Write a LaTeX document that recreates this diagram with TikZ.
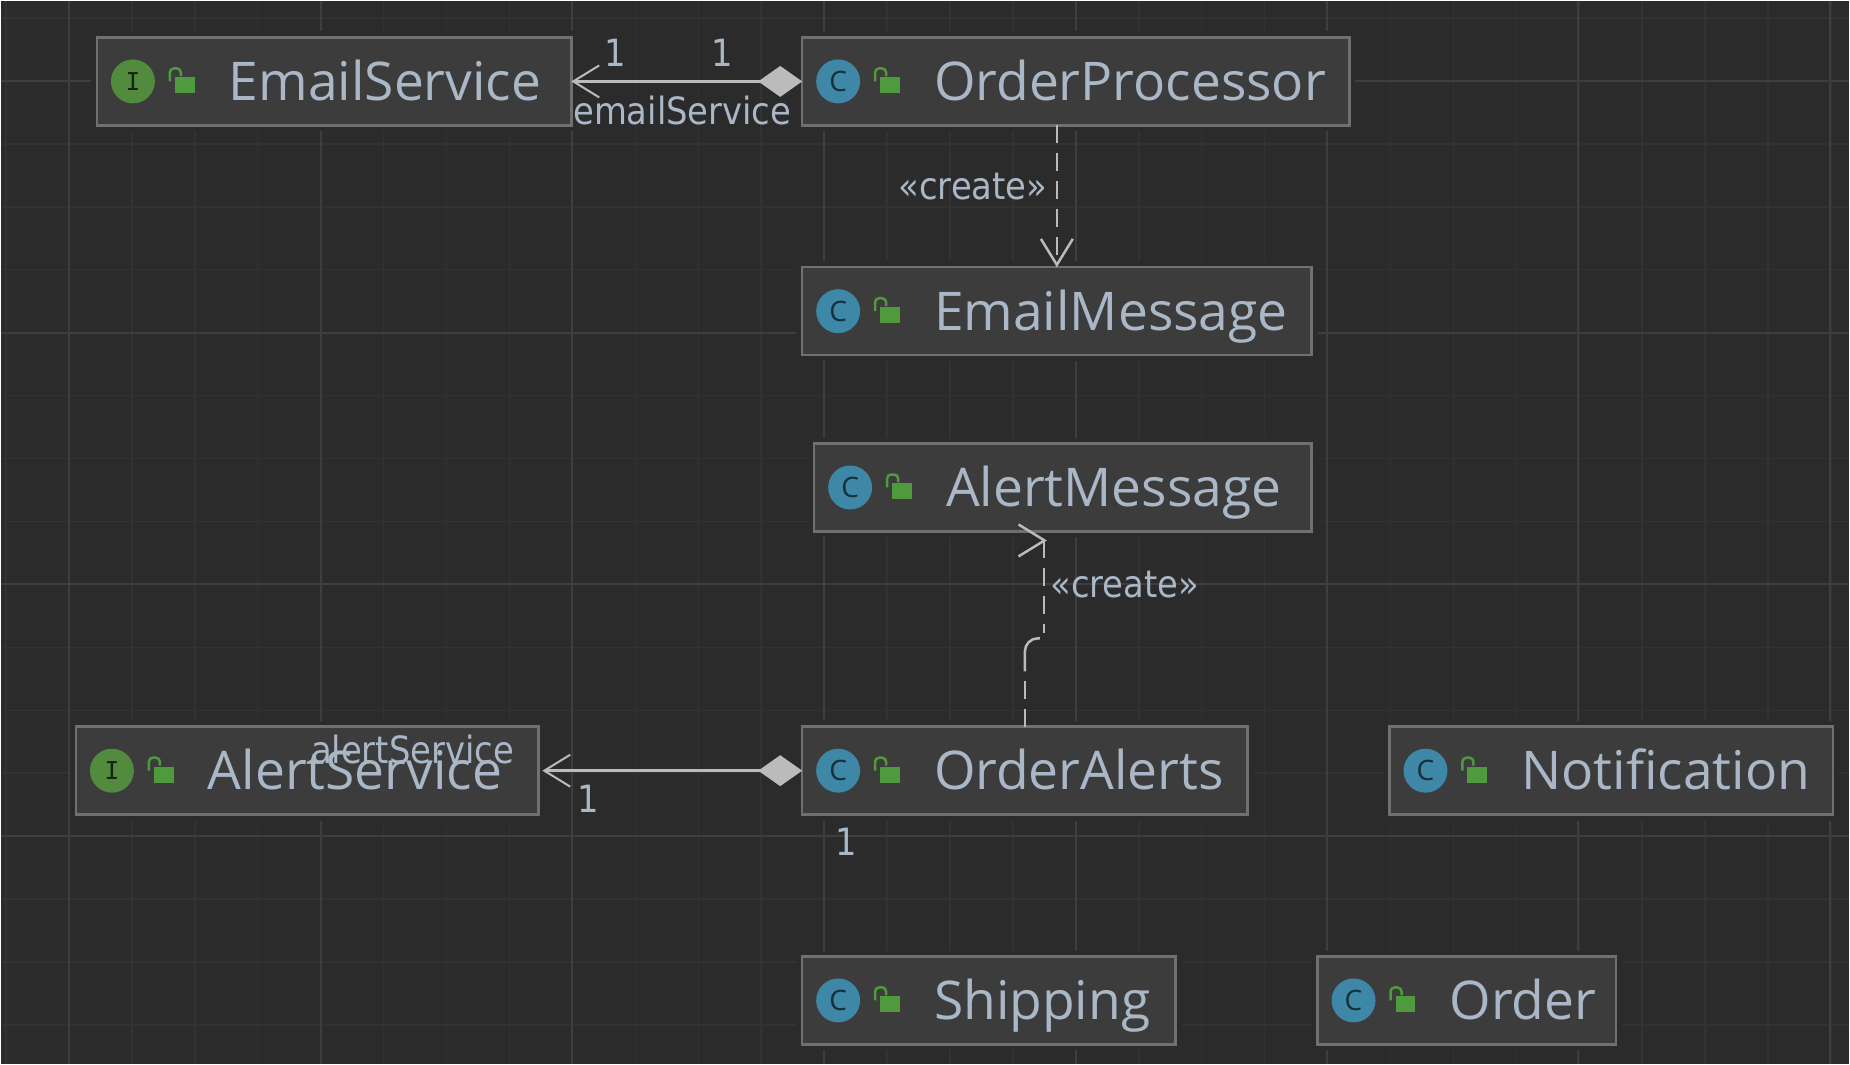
\documentclass[tikz,border=0pt]{standalone}
\usepackage{fontspec}
\setmainfont{Open Sans}
\newfontfamily\edgefont{DejaVu Sans Condensed}
\newfontfamily\iconfont{DejaVu Sans Mono}
\usetikzlibrary{positioning,arrows.meta}

\definecolor{canvasbg}{HTML}{2B2B2B}
\definecolor{gridminor}{HTML}{323232}
\definecolor{gridmajor}{HTML}{3E3E3E}
\definecolor{boxfill}{HTML}{3C3C3C}
\definecolor{boxline}{HTML}{707070}
\definecolor{textblue}{HTML}{A9B7C6}
\definecolor{linegray}{HTML}{BBBBBB}
\definecolor{ballblue}{HTML}{3E87A6}
\definecolor{ballgreen}{HTML}{538B3E}
\definecolor{lockgreen}{HTML}{4F9A3C}

\tikzset{
  classbox/.style={rectangle, draw=boxline, fill=boxfill, line width=0.05cm, minimum height=1.76cm,
    inner sep=0pt, outer sep=0pt, preaction={draw=canvasbg, line width=0.24cm}},
  classname/.style={inner sep=0pt, outer sep=0pt, text=textblue, text height=0.76cm, text depth=0pt,
    font=\fontsize{30.4}{36}\selectfont},
  iconball/.style={circle, inner sep=0pt, outer sep=0pt, minimum size=0.88cm, text=#1},
  iconI/.style={iconball=black!75!ballgreen, fill=ballgreen, font=\iconfont\fontsize{14}{14}\selectfont},
  iconC/.style={iconball=black!65!ballblue, fill=ballblue, font=\fontsize{16}{16}\selectfont},
  lockbody/.style={rectangle, fill=lockgreen, inner sep=0pt, outer sep=0pt, minimum width=0.4cm, minimum height=0.32cm},
  lockarc/.style={draw=lockgreen, line width=0.05cm, rounded corners=0.08cm},
  edgelabel/.style={inner sep=0pt, outer sep=0pt, text=textblue, font=\edgefont\fontsize{21.4}{26}\selectfont},
  aggregation/.style={draw=linegray, line width=0.06cm,
    {Straight Barb[length=0.52cm,width=0.64cm,line width=0.04cm]}-{Diamond[length=0.88cm,width=0.62cm,fill=linegray]}},
  dependency/.style={draw=linegray, line width=0.05cm, dash pattern=on 0.36cm off 0.2cm},
  openhead/.style={draw=linegray, line width=0.05cm, -{Straight Barb[length=0.52cm,width=0.64cm]}},
}

\begin{document}
\begin{tikzpicture}[x=0.02cm, y=-0.02cm]
    \fill[canvasbg] (0,0) rectangle (1850,1064);

    % grid
    \foreach \gx in {5,68,...,1850} \draw[gridminor, line width=0.03cm] (\gx,0) -- (\gx,1064);
    \foreach \gy in {17,80,...,1064} \draw[gridminor, line width=0.03cm] (0,\gy) -- (1850,\gy);
    \foreach \gx in {68,320,572,824,1076,1327,1579,1831} \draw[gridmajor, line width=0.04cm] (\gx,0) -- (\gx,1064);
    \foreach \gy in {80,332,584,836} \draw[gridmajor, line width=0.04cm] (0,\gy) -- (1850,\gy);

    % boxes
    \node[classbox, minimum width=9.5cm] (EmailService) at (333.5,80.5) {};
    \node[classbox, minimum width=10.96cm] (OrderProcessor) at (1076,80.5) {};
    \node[classbox, minimum width=10.2cm] (EmailMessage) at (1057,310.5) {};
    \node[classbox, minimum width=9.96cm] (AlertMessage) at (1063,487) {};
    \node[classbox, minimum width=8.92cm] (OrderAlerts) at (1025,770.5) {};
    \node[classbox, minimum width=9.26cm] (AlertService) at (306.5,770.5) {};
    \node[classbox, minimum width=8.88cm] (Notification) at (1612,770.5) {};
    \node[classbox, minimum width=7.48cm] (Shipping) at (989,1000.5) {};
    \node[classbox, minimum width=5.98cm] (Order) at (1467.5,1000.5) {};

    % class names
    \node[classname, right=2.64cm of EmailService.west] (EmailServiceName) {EmailService};
    \node[classname, right=2.64cm of OrderProcessor.west] (OrderProcessorName) {OrderProcessor};
    \node[classname, right=2.64cm of EmailMessage.west] (EmailMessageName) {EmailMessage};
    \node[classname, right=2.64cm of AlertMessage.west] (AlertMessageName) {AlertMessage};
    \node[classname, right=2.64cm of OrderAlerts.west] (OrderAlertsName) {OrderAlerts};
    \node[classname, right=2.64cm of AlertService.west] (AlertServiceName) {AlertService};
    \node[classname, right=2.64cm of Notification.west] (NotificationName) {Notification};
    \node[classname, right=2.64cm of Shipping.west] (ShippingName) {Shipping};
    \node[classname, right=2.64cm of Order.west] (OrderName) {Order};

    % icons
    \foreach \boxname/\kind in {EmailService/I, AlertService/I, OrderProcessor/C, EmailMessage/C,
        AlertMessage/C, OrderAlerts/C, Notification/C, Shipping/C, Order/C} {
      \node[icon\kind, right=0.28cm of \boxname.west] (\boxname Icon) {\kind};
      \node[lockbody, right=1.56cm of \boxname.west, yshift=-0.08cm] (\boxname Lock) {};
      \draw[lockarc] (\boxname Lock.west) ++(-0.1cm,0.08cm) -- ++(0,0.26cm) -- ++(0.22cm,0) -- ++(0,-0.16cm);
    }

    % connectors
    \draw[aggregation] (EmailService.east) -- (OrderProcessor.west);
    \draw[aggregation, shorten <=0.08cm] (AlertService.east) -- (OrderAlerts.west);
    \draw[dependency, -{Straight Barb[length=0.52cm,width=0.64cm]}] (EmailMessage.north |- OrderProcessor.south) -- (EmailMessage.north);

    \coordinate (alertLow) at (1025,671);
    \coordinate (alertBend) at (1025,638);
    \coordinate (alertBendEnd) at (1040,638);
    \coordinate (alertHigh) at (1044,633);
    \coordinate (alertTip) at (1047,540);
    \draw[dependency] (OrderAlerts.north) -- (alertLow);
    \draw[draw=linegray, line width=0.05cm, rounded corners=0.26cm] (alertLow) -- (alertBend) -- (alertBendEnd);
    \draw[dependency] (alertHigh |- alertTip) -- (alertHigh);
    \draw[openhead] (1043,540) -- (alertTip);

    % labels
    \node[edgelabel] (emailOne) at (615,52) {1};
    \node[edgelabel] (processorOne) at (722,52) {1};
    \node[edgelabel] (emailRole) at (682,110) {emailService};
    \node[edgelabel] (createEmail) at (973,186) {«create»};
    \node[edgelabel] (createAlert) at (1125,584) {«create»};
    \node[edgelabel] (alertRole) at (412,749) {alertService};
    \node[edgelabel] (alertOne) at (588,799) {1};
    \node[edgelabel] (ordersOne) at (846,842) {1};
  \end{tikzpicture}
\end{document}
